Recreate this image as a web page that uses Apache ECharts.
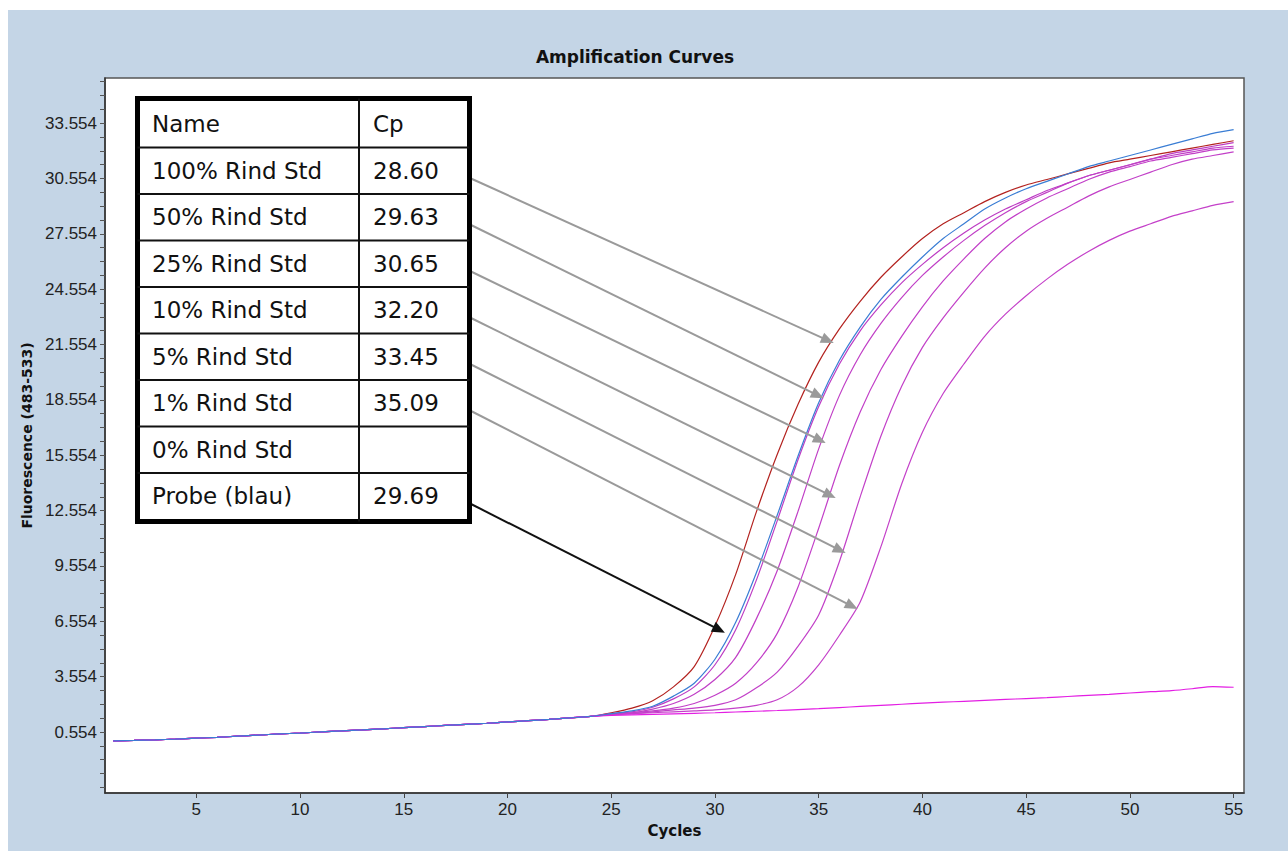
<!DOCTYPE html>
<html>
<head>
<meta charset="utf-8">
<title>Amplification Curves</title>
<script src="https://cdn.jsdelivr.net/npm/echarts@6/dist/echarts.min.js"></script>
<style>
html, body { margin: 0; padding: 0; background: #fff; }
#main { position: absolute; left: 8px; top: 10px; width: 1280px; height: 841px; }
</style>
</head>
<body>
<div id="main"></div>
<script>
// fluorescence per cycle; cycles 1-24 are the common flat start
var baseline = [0.08, 0.10, 0.13, 0.17, 0.22, 0.27, 0.33, 0.39, 0.45, 0.50, 0.56, 0.62,
  0.67, 0.73, 0.79, 0.85, 0.91, 0.97, 1.03, 1.10, 1.17, 1.24, 1.32, 1.40];
// cycles 25-55
var std100 = [1.6, 1.85, 2.25, 3.0, 4.1, 6.3, 9.1, 12.5, 15.6, 18.3, 20.6, 22.4, 23.9, 25.2, 26.3, 27.3,
  28.1, 28.7, 29.3, 29.8, 30.2, 30.5, 30.8, 31.1, 31.4, 31.6, 31.8, 32.0, 32.2, 32.4, 32.6];
var std50 = [1.55, 1.65, 1.9, 2.35, 3.0, 4.2, 6.1, 8.8, 12.0, 15.3, 18.2, 20.5, 22.3, 23.7, 24.9, 25.9,
  26.8, 27.6, 28.3, 28.9, 29.4, 29.9, 30.3, 30.7, 31.0, 31.3, 31.6, 31.9, 32.1, 32.3, 32.5];
var std25 = [1.5, 1.6, 1.8, 2.1, 2.6, 3.4, 4.6, 6.7, 9.3, 12.5, 15.9, 18.8, 21.0, 22.7, 24.1, 25.3,
  26.3, 27.2, 28.0, 28.7, 29.3, 29.8, 30.3, 30.7, 31.0, 31.3, 31.6, 31.8, 32.0, 32.2, 32.3];
var std10 = [1.5, 1.6, 1.7, 1.85, 2.1, 2.55, 3.2, 4.3, 5.9, 8.4, 11.6, 15.0, 17.9, 20.2, 22.0, 23.6,
  25.0, 26.2, 27.3, 28.2, 28.9, 29.5, 30.0, 30.5, 30.9, 31.2, 31.5, 31.7, 31.9, 32.1, 32.2];
var std5 = [1.5, 1.55, 1.65, 1.75, 1.85, 2.0, 2.3, 2.95, 3.8, 5.2, 6.9, 9.8, 13.3, 16.6, 19.3, 21.4,
  23.0, 24.4, 25.7, 26.8, 27.7, 28.4, 29.0, 29.6, 30.1, 30.5, 30.9, 31.3, 31.6, 31.8, 32.0];
var std1 = [1.5, 1.55, 1.6, 1.65, 1.7, 1.75, 1.85, 2.0, 2.3, 3.0, 4.2, 5.8, 7.6, 10.6, 14.0, 16.8,
  18.9, 20.5, 22.0, 23.2, 24.2, 25.1, 25.9, 26.6, 27.2, 27.7, 28.1, 28.5, 28.8, 29.1, 29.3];
var std0 = [1.45, 1.48, 1.51, 1.54, 1.57, 1.6, 1.64, 1.68, 1.72, 1.77, 1.82, 1.88, 1.94, 2.0, 2.06, 2.12,
  2.17, 2.22, 2.27, 2.32, 2.37, 2.42, 2.48, 2.54, 2.6, 2.67, 2.74, 2.8, 2.9, 3.02, 2.98];
var probe = [1.55, 1.7, 1.95, 2.5, 3.2, 4.5, 6.5, 9.2, 12.3, 15.5, 18.4, 20.7, 22.5, 24.0, 25.2, 26.3,
  27.3, 28.1, 28.9, 29.5, 30.0, 30.4, 30.8, 31.2, 31.5, 31.8, 32.1, 32.4, 32.7, 33.0, 33.2];

var sampleNames = ['100% Rind Std', '50% Rind Std', '25% Rind Std', '10% Rind Std',
  '5% Rind Std', '1% Rind Std', '0% Rind Std', 'Probe (blau)'];
var cpValues = ['28.60', '29.63', '30.65', '32.20', '33.45', '35.09', '', '29.69'];
// where each arrow of the table points to (cycle, fluorescence); null = no arrow
var arrowTips = [[35.44, 21.78], [34.96, 18.8], [35.06, 16.37], [35.54, 13.39],
  [36.02, 10.41], [36.6, 7.38], null, [30.2, 6.1]];

var xTicks = [5, 10, 15, 20, 25, 30, 35, 40, 45, 50, 55];
var yTicks = [0.554, 3.554, 6.554, 9.554, 12.554, 15.554, 18.554, 21.554, 24.554, 27.554, 30.554, 33.554];

var tails = [std100, std50, std25, std10, std5, std1, std0, probe];
var colors = ['#b3221f', '#bd3cc4', '#c03fc6', '#c23fc8', '#c240c8', '#c441c9', '#e31ee3', '#3a7dd4'];

var cycles = [];
for (var c = 1; c <= 55; c++) cycles.push(c);

var yMinor = [];
for (var t = yTicks[0] - 3; t < 36; t += 0.75) yMinor.push(+t.toFixed(3));

// table geometry (container pixels)
var tabX = 129.5, tabY = 88.5, tabW = 332, tabH = 423;
var innerTop = 91, rowH = 46.5, colX = 351;
var nameX = 144, cpX = 365;

var chart = echarts.init(document.getElementById('main'), null, { renderer: 'svg' });

var series = tails.map(function (tail, i) {
  var vals = baseline.concat(tail);
  var s = {
    name: sampleNames[i],
    type: 'line',
    showSymbol: false,
    silent: true,
    smooth: 0.25,
    z: 2 + i,
    lineStyle: { color: colors[i], width: 1.2 },
    data: vals.map(function (v, k) { return [cycles[k], v]; })
  };
  if (arrowTips[i]) {
    var rowCenter = innerTop + rowH * (i + 1.5);
    var arrowColor = i === 7 ? '#111' : '#9a9a9a';
    s.markLine = {
      silent: true,
      z: 20,
      label: { show: false },
      lineStyle: { color: arrowColor, width: 2, type: 'solid' },
      itemStyle: { color: arrowColor },
      emphasis: { disabled: true },
      data: [[
        { x: tabX + tabW + 2, y: rowCenter + 8, symbol: 'none' },
        { coord: arrowTips[i], symbol: 'triangle', symbolSize: [11, 13] }
      ]]
    };
  }
  return s;
});

var graphics = [{
  type: 'rect', z: 100,
  shape: { x: tabX, y: tabY, width: tabW, height: tabH },
  style: { fill: '#fff', stroke: '#000', lineWidth: 5 }
}, {
  type: 'line', z: 101,
  shape: { x1: colX, y1: tabY, x2: colX, y2: tabY + tabH },
  style: { stroke: '#111', lineWidth: 2 }
}];
for (var r = 1; r < 9; r++) {
  graphics.push({
    type: 'line', z: 101,
    shape: { x1: tabX, y1: innerTop + rowH * r, x2: tabX + tabW, y2: innerTop + rowH * r },
    style: { stroke: '#111', lineWidth: 2 }
  });
}
var rowsText = [['Name', 'Cp']].concat(sampleNames.map(function (n, i) { return [n, cpValues[i]]; }));
rowsText.forEach(function (row, r) {
  var cy = innerTop + rowH * (r + 0.5);
  [nameX, cpX].forEach(function (x, j) {
    graphics.push({
      type: 'text', z: 102, x: x, y: cy,
      style: {
        text: row[j], fill: '#111', font: '23px "DejaVu Sans"',
        verticalAlign: 'middle', align: 'left'
      }
    });
  });
});

var labelFont = "'Liberation Sans Narrow', 'Liberation Sans', sans-serif";

chart.setOption({
  animation: false,
  backgroundColor: '#c4d5e6',
  title: {
    text: 'Amplification Curves',
    left: 622, top: 33, textAlign: 'center',
    textStyle: { fontFamily: 'DejaVu Sans', fontWeight: 'bold', fontSize: 17, color: '#111' }
  },
  grid: {
    left: 97, top: 68, right: 44, bottom: 58,
    show: true, backgroundColor: '#fff', borderColor: '#555', borderWidth: 1.5
  },
  xAxis: {
    type: 'value', min: 0.6, max: 55.5,
    name: 'Cycles', nameLocation: 'middle', nameGap: 30,
    nameTextStyle: { fontFamily: 'DejaVu Sans', fontWeight: 'bold', fontSize: 15, color: '#111' },
    axisLine: { show: true, onZero: false, lineStyle: { color: '#333', width: 1.5 } },
    axisTick: { show: true, customValues: xTicks, length: 5, lineStyle: { color: '#444' } },
    axisLabel: { customValues: xTicks, fontFamily: labelFont, fontSize: 17, color: '#222', margin: 8 },
    splitLine: { show: false }
  },
  yAxis: {
    type: 'value', min: -2.75, max: 36,
    name: 'Fluorescence (483-533)', nameLocation: 'middle', nameGap: 52, nameRotate: 90,
    nameTextStyle: { fontFamily: 'DejaVu Sans', fontWeight: 'bold', fontSize: 14, color: '#111' },
    axisLine: { show: true, onZero: false, lineStyle: { color: '#333', width: 1.5 } },
    axisTick: { show: true, customValues: yMinor, length: 5, lineStyle: { color: '#555' } },
    axisLabel: {
      customValues: yTicks, fontFamily: labelFont, fontSize: 17, color: '#222', margin: 8,
      formatter: function (v) { return v.toFixed(3); }
    },
    splitLine: { show: false }
  },
  graphic: graphics,
  series: series
});
</script>
</body>
</html>
